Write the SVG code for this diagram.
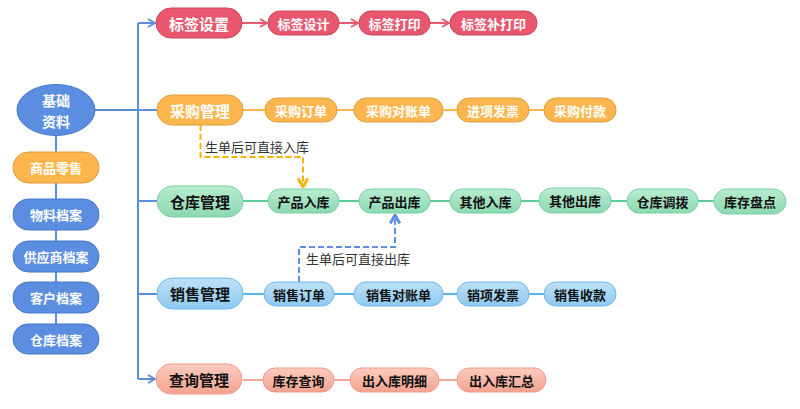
<svg xmlns="http://www.w3.org/2000/svg" width="800" height="409" viewBox="0 0 800 409">
<defs>
<linearGradient id="gGreen" x1="0" y1="0" x2="0" y2="1"><stop offset="0" stop-color="#B8EDD0"/><stop offset="1" stop-color="#8CD8B0"/></linearGradient>
<linearGradient id="gBlue" x1="0" y1="0" x2="0" y2="1"><stop offset="0" stop-color="#BDE1F8"/><stop offset="1" stop-color="#8DC9F0"/></linearGradient>
<linearGradient id="gSalmon" x1="0" y1="0" x2="0" y2="1"><stop offset="0" stop-color="#FCCBBE"/><stop offset="1" stop-color="#F4A391"/></linearGradient>
<marker id="aRed" viewBox="0 0 10 10" refX="9" refY="5" markerWidth="10" markerHeight="10" markerUnits="userSpaceOnUse" orient="auto"><path d="M2,1 L9,5 L2,9" fill="none" stroke="#E8596F" stroke-width="2"/></marker>
<marker id="aBlue" viewBox="0 0 10 10" refX="9" refY="5" markerWidth="10" markerHeight="10" markerUnits="userSpaceOnUse" orient="auto"><path d="M2,1 L9,5 L2,9" fill="none" stroke="#5B8EE0" stroke-width="2"/></marker>
<marker id="aOrange" viewBox="0 0 10 10" refX="9" refY="5" markerWidth="12" markerHeight="12" markerUnits="userSpaceOnUse" orient="auto"><path d="M2,1 L9,5 L2,9" fill="none" stroke="#F9B400" stroke-width="2.5"/></marker>
<marker id="aBlue2" viewBox="0 0 10 10" refX="9" refY="5" markerWidth="12" markerHeight="12" markerUnits="userSpaceOnUse" orient="auto"><path d="M2,1 L9,5 L2,9" fill="none" stroke="#5B8EE0" stroke-width="2.5"/></marker>
</defs>
<style>
text{font-family:"Noto Sans CJK SC","Noto Sans",sans-serif;text-anchor:middle;dominant-baseline:central;font-weight:bold}
.main text{font-size:15px}
.child text{font-size:13px}
.red rect{fill:#E9576E;stroke:#C84459;stroke-width:1}
.red text{fill:#fff}
.org rect{fill:#FDB64E;stroke:#E09A3A;stroke-width:1}
.org text{fill:#fff}
.grn rect{fill:url(#gGreen);stroke:#78D0A3;stroke-width:1}
.grn text{fill:#111}
.blu rect{fill:url(#gBlue);stroke:#70B8E8;stroke-width:1}
.blu text{fill:#111}
.sal rect{fill:url(#gSalmon);stroke:#F29A89;stroke-width:1}
.sal text{fill:#111}
.base rect,.base ellipse{fill:#5B8EE0;stroke:#4577C6;stroke-width:1}
.base text{fill:#fff;font-size:13px}
.lbl{font-weight:normal;font-size:13px;fill:#333;text-anchor:start}
.c{fill:none;stroke-width:2}
</style>
<g id="connectors">
<path class="c" stroke="#5B8EE0" d="M56,135 V324"/>
<path class="c" stroke="#5B8EE0" d="M95,110 H157"/>
<path class="c" stroke="#5B8EE0" d="M138,379 V23"/>
<path class="c" stroke="#5B8EE0" d="M138,23 H155" marker-end="url(#aBlue)"/>
<path class="c" stroke="#5B8EE0" d="M138,379 H155" marker-end="url(#aBlue)"/>
<path class="c" stroke="#5B8EE0" d="M138,201 H157"/>
<path class="c" stroke="#5B8EE0" d="M138,294 H157"/>
<path class="c" stroke="#E8596F" d="M242,23 H267" marker-end="url(#aRed)"/>
<path class="c" stroke="#E8596F" d="M339,23 H358" marker-end="url(#aRed)"/>
<path class="c" stroke="#E8596F" d="M430,23 H449" marker-end="url(#aRed)"/>
<path class="c" stroke="#FDB64E" d="M243,110 H265 M337,110 H354 M443,110 H457 M529,110 H544"/>
<path class="c" stroke="#5CCB95" d="M243,201 H268 M339,201 H359 M430,201 H450 M521,201 H539 M611,201 H627 M698,201 H714"/>
<path class="c" stroke="#5BB3E8" d="M243,294 H264 M334,294 H354 M443,294 H457 M529,294 H544"/>
<path class="c" stroke="#F5A898" d="M243,380 H263 M334,380 H350 M439,380 H457"/>
<path class="c" stroke="#F9B400" stroke-dasharray="6,3" d="M200.5,125 V157 H303 V187" marker-end="url(#aOrange)"/>
<path class="c" stroke="#5B8EE0" stroke-dasharray="6,3" d="M299,282 V247 H395 V215" marker-end="url(#aBlue2)"/>
<text class="lbl" x="205" y="146">生单后可直接入库</text>
<text class="lbl" x="306" y="258">生单后可直接出库</text>
</g>
<g id="n-jichu" class="base"><ellipse cx="56" cy="110" rx="39" ry="25.5"/><text x="56" y="99.5" style="font-size:14px">基础</text><text x="56" y="120.5" style="font-size:14px">资料</text></g>
<g id="n-shangpin" class="org child"><rect x="13" y="152" width="86" height="31" rx="15.5"/><text x="56" y="167.5">商品零售</text></g>
<g id="n-wuliao" class="base"><rect x="13" y="199" width="86" height="31" rx="15.5"/><text x="56" y="214.5">物料档案</text></g>
<g id="n-gongying" class="base"><rect x="13" y="241" width="86" height="31" rx="15.5"/><text x="56" y="256.5">供应商档案</text></g>
<g id="n-kehu" class="base"><rect x="13" y="282" width="86" height="31" rx="15.5"/><text x="56" y="297.5">客户档案</text></g>
<g id="n-cangkudangan" class="base"><rect x="13" y="324" width="86" height="30" rx="15"/><text x="56" y="339">仓库档案</text></g>

<g id="n-biaoqianshezhi" class="red main"><rect x="156" y="8" width="86" height="30" rx="15"/><text x="199" y="23">标签设置</text></g>
<g id="n-biaoqiansheji" class="red child"><rect x="268" y="11" width="71" height="24" rx="12"/><text x="303.5" y="23">标签设计</text></g>
<g id="n-biaoqiandayin" class="red child"><rect x="359" y="11" width="71" height="24" rx="12"/><text x="394.5" y="23">标签打印</text></g>
<g id="n-biaoqianbudayin" class="red child"><rect x="450" y="11" width="87" height="24" rx="12"/><text x="493.5" y="23">标签补打印</text></g>

<g id="n-caigouguanli" class="org main"><rect x="157" y="95" width="86" height="30" rx="15"/><text x="200" y="110">采购管理</text></g>
<g id="n-caigoudingdan" class="org child"><rect x="265" y="98" width="72" height="24" rx="12"/><text x="301" y="110">采购订单</text></g>
<g id="n-caigouduizhang" class="org child"><rect x="354" y="98" width="89" height="24" rx="12"/><text x="398.5" y="110">采购对账单</text></g>
<g id="n-jinxiangfapiao" class="org child"><rect x="457" y="98" width="72" height="24" rx="12"/><text x="493" y="110">进项发票</text></g>
<g id="n-caigoufukuan" class="org child"><rect x="544" y="98" width="72" height="24" rx="12"/><text x="580" y="110">采购付款</text></g>

<g id="n-cangkuguanli" class="grn main"><rect x="157" y="186" width="86" height="31" rx="15.5"/><text x="200" y="201.5">仓库管理</text></g>
<g id="n-chanpinruku" class="grn child"><rect x="268" y="189" width="71" height="24" rx="12"/><text x="303.5" y="201">产品入库</text></g>
<g id="n-chanpinchuku" class="grn child"><rect x="359" y="189" width="71" height="24" rx="12"/><text x="394.5" y="201">产品出库</text></g>
<g id="n-qitaruku" class="grn child"><rect x="450" y="189" width="71" height="24" rx="12"/><text x="485.5" y="201">其他入库</text></g>
<g id="n-qitachuku" class="grn child"><rect x="539" y="188" width="72" height="25" rx="12.5"/><text x="575" y="200.5">其他出库</text></g>
<g id="n-cangkudiaobo" class="grn child"><rect x="627" y="189" width="71" height="24" rx="12"/><text x="662.5" y="201">仓库调拨</text></g>
<g id="n-kucunpandian" class="grn child"><rect x="714" y="189" width="72" height="25" rx="12.5"/><text x="750" y="201.5">库存盘点</text></g>

<g id="n-xiaoshouguanli" class="blu main"><rect x="157" y="278" width="86" height="31" rx="15.5"/><text x="200" y="293.5">销售管理</text></g>
<g id="n-xiaoshoudingdan" class="blu child"><rect x="264" y="282" width="70" height="24" rx="12"/><text x="299" y="294">销售订单</text></g>
<g id="n-xiaoshouduizhang" class="blu child"><rect x="354" y="282" width="89" height="24" rx="12"/><text x="398.5" y="294">销售对账单</text></g>
<g id="n-xiaoxiangfapiao" class="blu child"><rect x="457" y="282" width="72" height="24" rx="12"/><text x="493" y="294">销项发票</text></g>
<g id="n-xiaoshoushoukuan" class="blu child"><rect x="544" y="282" width="72" height="24" rx="12"/><text x="580" y="294">销售收款</text></g>

<g id="n-chaxunguanli" class="sal main"><rect x="156" y="364" width="86" height="30" rx="15"/><text x="199" y="379">查询管理</text></g>
<g id="n-kucunchaxun" class="sal child"><rect x="263" y="368" width="71" height="24" rx="12"/><text x="298.5" y="380">库存查询</text></g>
<g id="n-churukumingxi" class="sal child"><rect x="350" y="368" width="89" height="24" rx="12"/><text x="394.5" y="380">出入库明细</text></g>
<g id="n-churukuhuizong" class="sal child"><rect x="457" y="368" width="89" height="24" rx="12"/><text x="501.5" y="380">出入库汇总</text></g>
</svg>
